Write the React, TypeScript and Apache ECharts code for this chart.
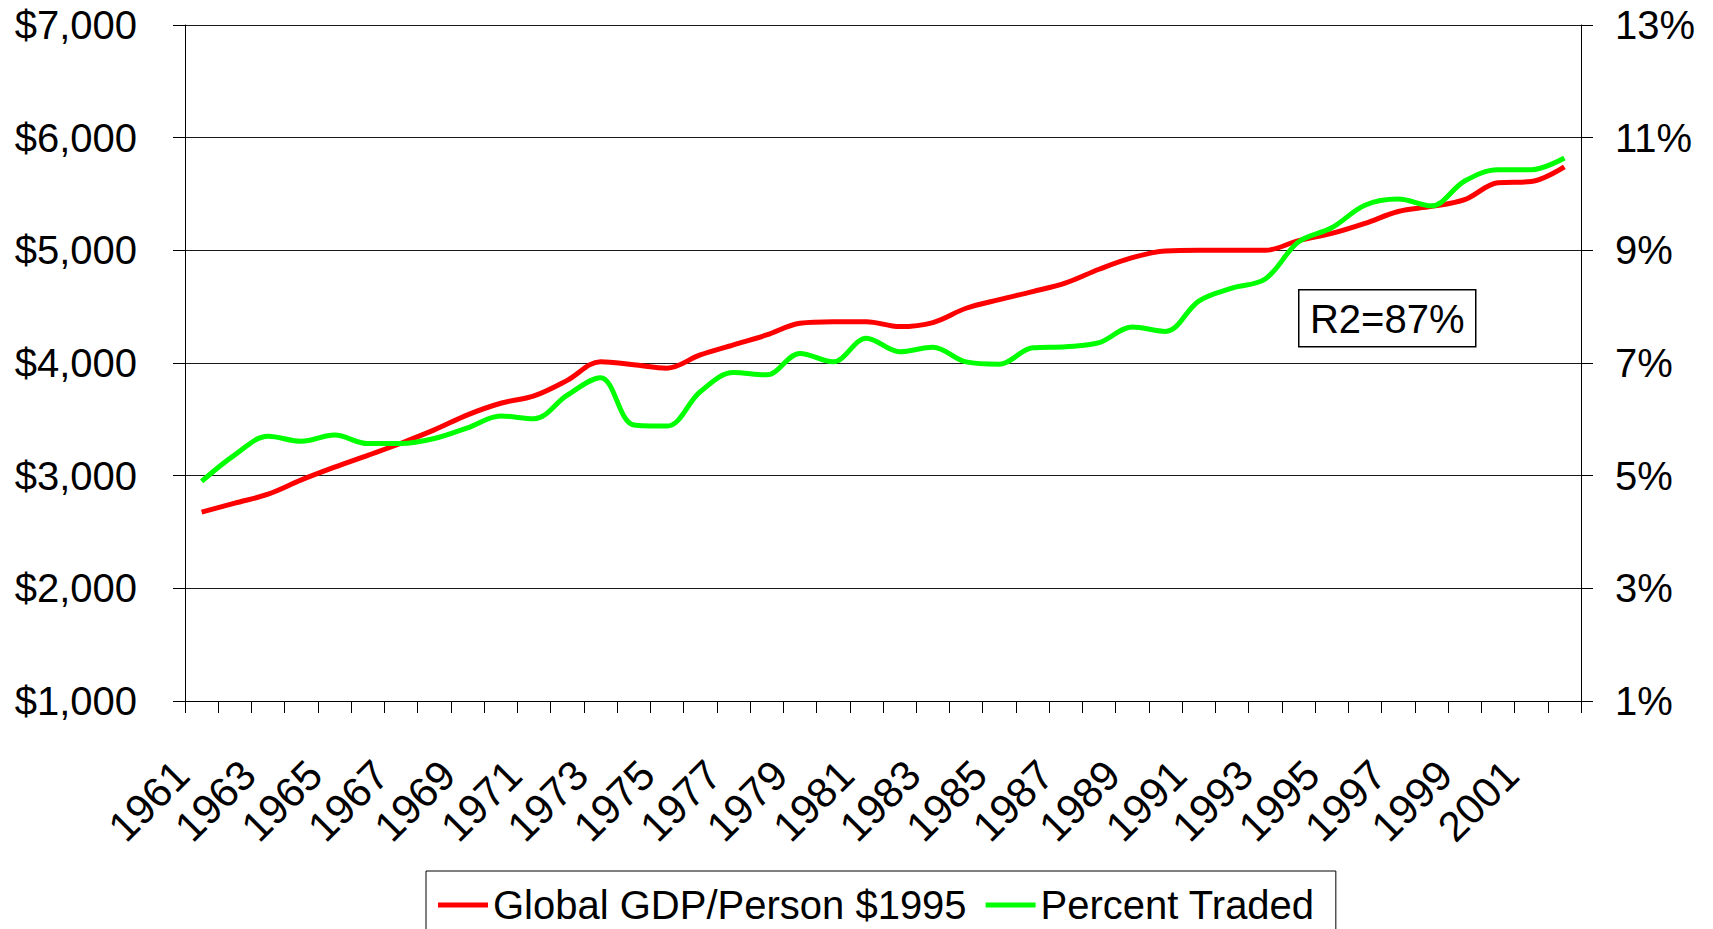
import React, { useEffect, useRef } from "react";
import * as echarts from "echarts";

const years = [
  "1961", "1962", "1963", "1964", "1965", "1966", "1967", "1968", "1969", "1970",
  "1971", "1972", "1973", "1974", "1975", "1976", "1977", "1978", "1979", "1980",
  "1981", "1982", "1983", "1984", "1985", "1986", "1987", "1988", "1989", "1990",
  "1991", "1992", "1993", "1994", "1995", "1996", "1997", "1998", "1999", "2000",
  "2001", "2002",
];

const gdpPerPerson = [
  2676, 2756, 2836, 2963, 3076, 3181, 3288, 3406, 3540, 3643,
  3708, 3846, 4012, 3985, 3954, 4072, 4161, 4249, 4353, 4367,
  4367, 4323, 4359, 4486, 4563, 4634, 4711, 4832, 4935, 4995,
  5000, 5000, 5000, 5086, 5150, 5239, 5345, 5390, 5450, 5600,
  5610, 5740,
];

const percentTraded = [
  4.9, 5.37, 5.7, 5.61, 5.72, 5.57, 5.57, 5.66, 5.85, 6.06,
  6.01, 6.43, 6.74, 5.9, 5.88, 6.49, 6.83, 6.79, 7.17, 7.02,
  7.44, 7.2, 7.28, 7.02, 6.98, 7.27, 7.29, 7.36, 7.64, 7.56,
  8.1, 8.33, 8.49, 9.15, 9.4, 9.8, 9.91, 9.79, 10.23, 10.43,
  10.43, 10.64,
];

const seriesNames = ["Global GDP/Person $1995", "Percent Traded"];
const seriesColors = ["#FF0000", "#00FF00"];
const gdpAxis = { min: 1000, max: 7000, step: 1000 };
const pctAxis = { min: 1, max: 13, step: 2 };
const annotation = "R2=87%";

const FONT = "'Liberation Sans', Arial, sans-serif";

function dollars(v: number): string {
  return "$" + String(Math.round(v)).replace(/\B(?=(\d{3})+(?!\d))/g, ",");
}

export default function App() {
  const ref = useRef<HTMLDivElement>(null);

  useEffect(() => {
    if (!ref.current) return;
    const chart = echarts.init(ref.current, undefined, { renderer: "svg" });
    const axisText = { color: "#000", fontSize: 40, fontFamily: FONT };
    chart.setOption({
      animation: false,
      backgroundColor: "#fff",
      textStyle: { fontFamily: FONT },
      grid: { left: 185, right: 132, top: 25, bottom: 228, containLabel: false },
      legend: {
        data: seriesNames.map((n) => ({ name: n, icon: "rect" })),
        left: 426,
        top: 871,
        orient: "horizontal",
        itemWidth: 50,
        itemHeight: 5,
        itemGap: 19,
        padding: [14, 21, 14, 12],
        borderColor: "#000",
        borderWidth: 1,
        textStyle: { color: "#000", fontSize: 40, fontFamily: FONT },
      },
      xAxis: {
        type: "category",
        data: years,
        boundaryGap: true,
        axisLine: { show: true, lineStyle: { color: "#000", width: 1 } },
        axisTick: { show: true, interval: 0, length: 12, lineStyle: { color: "#000" } },
        axisLabel: {
          ...axisText,
          fontSize: 42,
          interval: 1,
          rotate: 45,
          margin: 47,
          padding: [0, 28, 0, 0],
        },
        splitLine: { show: false },
      },
      yAxis: [
        {
          type: "value",
          position: "left",
          min: gdpAxis.min,
          max: gdpAxis.max,
          interval: gdpAxis.step,
          axisLine: { show: true, lineStyle: { color: "#000", width: 1 } },
          axisTick: { show: true, length: 12, lineStyle: { color: "#000" } },
          axisLabel: { ...axisText, margin: 48, formatter: (v: number) => dollars(v) },
          splitLine: { show: true, lineStyle: { color: "#1a1a1a", width: 1 } },
        },
        {
          type: "value",
          position: "right",
          min: pctAxis.min,
          max: pctAxis.max,
          interval: pctAxis.step,
          axisLine: { show: true, lineStyle: { color: "#000", width: 1 } },
          axisTick: { show: true, length: 12, lineStyle: { color: "#000" } },
          axisLabel: { ...axisText, margin: 34, formatter: (v: number) => v + "%" },
          splitLine: { show: false },
        },
      ],
      series: [
        {
          name: seriesNames[0],
          type: "line",
          yAxisIndex: 0,
          data: gdpPerPerson,
          smooth: 0.35,
          symbol: "none",
          lineStyle: { color: seriesColors[0], width: 5 },
          itemStyle: { color: seriesColors[0] },
        },
        {
          name: seriesNames[1],
          type: "line",
          yAxisIndex: 1,
          data: percentTraded,
          smooth: 0.35,
          symbol: "none",
          lineStyle: { color: seriesColors[1], width: 5 },
          itemStyle: { color: seriesColors[1] },
        },
      ],
      graphic: [
        {
          type: "group",
          left: 1298,
          top: 289,
          children: [
            {
              type: "rect",
              shape: { x: 0, y: 0, width: 177, height: 57 },
              style: { fill: "#fff", stroke: "#000", lineWidth: 1.5 },
            },
            {
              type: "text",
              x: 88.5,
              y: 29,
              style: {
                text: annotation,
                fill: "#000",
                font: `40px ${FONT}`,
                textAlign: "center",
                verticalAlign: "middle",
              },
            },
          ],
        },
      ],
    });
    return () => chart.dispose();
  }, []);

  return (
    <div
      ref={ref}
      style={{ position: "fixed", left: 0, top: 0, width: 1713, height: 929, background: "#fff" }}
    />
  );
}
